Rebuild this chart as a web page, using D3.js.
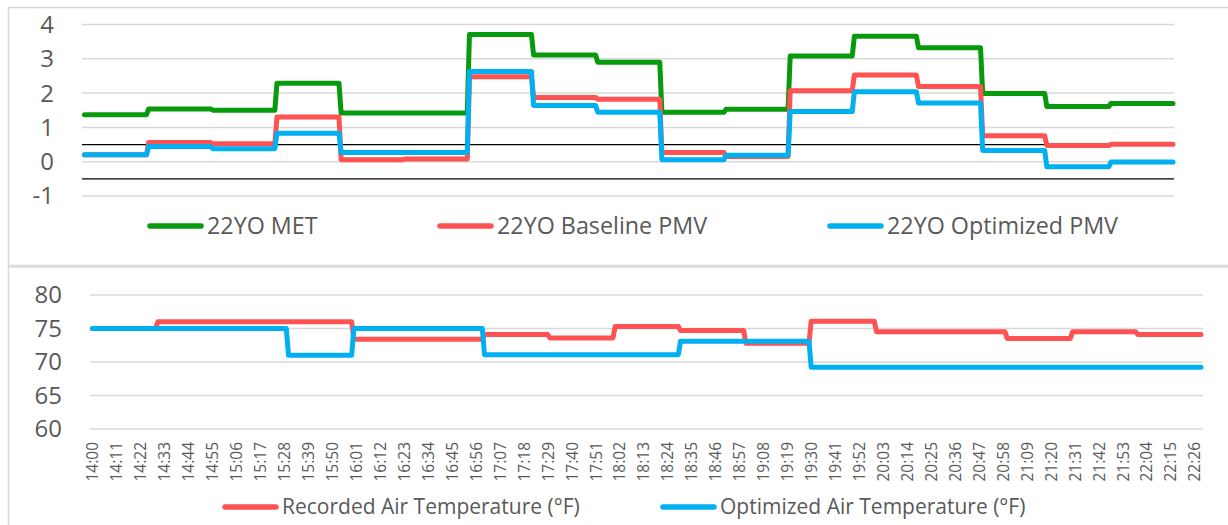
<!DOCTYPE html>
<html><head><meta charset="utf-8">
<script src="https://cdn.jsdelivr.net/npm/d3@7"></script>
<style>
html,body{margin:0;padding:0;background:#fff;}
svg{display:block;font-family:"Open Sans",sans-serif;}
</style></head>
<body>
<svg id="chart" width="1228" height="525"></svg>
<script>
// ---- data ----
const blockStarts = ["14:00","14:30","15:00","15:30","16:00","16:30","17:00","17:30","18:00","18:30","19:00","19:30","20:00","20:30","21:00","21:30","22:00"];
const dataEnd = "22:29";
const metValues        = [1.37,1.54,1.50,2.29,1.42,1.42,3.71,3.11,2.90,1.44,1.53,3.08,3.66,3.32,1.99,1.61,1.70];
const baselinePMV      = [0.20,0.56,0.52,1.30,0.06,0.08,2.48,1.87,1.82,0.27,0.15,2.07,2.53,2.19,0.76,0.47,0.51];
const optimizedPMV     = [0.20,0.44,0.38,0.83,0.27,0.27,2.63,1.64,1.44,0.06,0.19,1.46,2.04,1.71,0.33,-0.15,-0.01];
const recordedTemp     = [75.0,76.0,76.0,76.0,73.4,73.4,74.1,73.6,75.3,74.7,72.8,76.1,74.5,74.5,73.5,74.5,74.1];
const optimizedTemp    = [75.0,75.0,75.0,71.0,75.0,75.0,71.1,71.1,71.1,73.1,73.1,69.2,69.2,69.2,69.2,69.2,69.2];
const comfortBand      = [-0.5,0.5];
const topTicks         = [-1,0,1,2,3,4];
const bottomTicks      = [60,65,70,75,80];
const timeLabels = ["14:00","14:11","14:22","14:33","14:44","14:55","15:06","15:17","15:28","15:39","15:50","16:01","16:12","16:23","16:34","16:45","16:56","17:07","17:18","17:29","17:40","17:51","18:02","18:13","18:24","18:35","18:46","18:57","19:08","19:19","19:30","19:41","19:52","20:03","20:14","20:25","20:36","20:47","20:58","21:09","21:20","21:31","21:42","21:53","22:04","22:15","22:26"];
const topSeries = [
  {name:"22YO MET", values:metValues, color:"#079A0C"},
  {name:"22YO Baseline PMV", values:baselinePMV, color:"#FF5252"},
  {name:"22YO Optimized PMV", values:optimizedPMV, color:"#00B0F0"}
];
const bottomSeries = [
  {name:"Recorded Air Temperature (°F)", values:recordedTemp, color:"#FF5252"},
  {name:"Optimized Air Temperature (°F)", values:optimizedTemp, color:"#00B0F0"}
];

// ---- helpers ----
const toMin = s => { const [h,m] = s.split(":").map(Number); return (h-14)*60+m; };
const endMin = toMin(dataEnd);
function stepPoints(values){
  const pts = [];
  values.forEach((v,i)=>{
    const s = toMin(blockStarts[i]);
    const e = i < blockStarts.length-1 ? toMin(blockStarts[i+1]) - 1 : endMin;
    pts.push([s,v]); pts.push([e,v]);
  });
  return pts;
}

const svg = d3.select("#chart");
const textColor = "#595959", gridColor = "#D9D9D9";

// panels
svg.append("rect").attr("x",8.5).attr("y",7.5).attr("width",1240).attr("height",258)
  .attr("fill","#fff").attr("stroke",gridColor).attr("stroke-width",1.5);
svg.append("rect").attr("x",8.5).attr("y",267).attr("width",1240).attr("height",280)
  .attr("fill","#fff").attr("stroke",gridColor).attr("stroke-width",1.5);

// ---- top chart ----
const xTop = d3.scaleLinear().domain([0,endMin]).range([84.5,1173]);
const yTop = d3.scaleLinear().domain([-1,4]).range([196,24.5]);
const gTop = svg.append("g");
gTop.append("g").selectAll("line").data(topTicks).join("line")
  .attr("x1",82).attr("x2",1174).attr("y1",d=>yTop(d)).attr("y2",d=>yTop(d))
  .attr("stroke",gridColor).attr("stroke-width",1.5);
gTop.append("g").selectAll("text").data(topTicks).join("text")
  .attr("x",54).attr("y",d=>yTop(d)).attr("dy","0.35em").attr("text-anchor","end")
  .attr("fill",textColor).attr("font-size",24).text(d=>d);
gTop.append("g").selectAll("line").data(comfortBand).join("line")
  .attr("x1",82).attr("x2",1174).attr("y1",d=>yTop(d)).attr("y2",d=>yTop(d))
  .attr("stroke","#000").attr("stroke-width",1.2);
const lineTop = d3.line().x(d=>xTop(d[0])).y(d=>yTop(d[1]));
topSeries.forEach(s=>{
  gTop.append("path").attr("d",lineTop(stepPoints(s.values))).attr("fill","none")
    .attr("stroke",s.color).attr("stroke-width",5).attr("stroke-linejoin","round").attr("stroke-linecap","round");
});
// top legend
const topLegX = [148,438,828];
topSeries.forEach((s,i)=>{
  const g = svg.append("g").attr("transform",`translate(${topLegX[i]},226)`);
  g.append("line").attr("x1",2).attr("x2",53).attr("stroke",s.color).attr("stroke-width",5.5).attr("stroke-linecap","round");
  g.append("text").attr("x",59).attr("dy","0.35em").attr("fill",textColor).attr("font-size",23.3).text(s.name);
});

// ---- bottom chart ----
const xBot = d3.scaleLinear().domain([0,endMin]).range([92.5,1201]);
const yBot = d3.scaleLinear().domain([60,80]).range([429,295]);
const gBot = svg.append("g");
gBot.append("g").selectAll("line").data(bottomTicks).join("line")
  .attr("x1",90).attr("x2",1203).attr("y1",d=>yBot(d)).attr("y2",d=>yBot(d))
  .attr("stroke",gridColor).attr("stroke-width",1.5);
gBot.append("g").selectAll("text").data(bottomTicks).join("text")
  .attr("x",62).attr("y",d=>yBot(d)).attr("dy","0.35em").attr("text-anchor","end")
  .attr("fill",textColor).attr("font-size",24).text(d=>d);
const xAxis = d3.axisBottom(xBot).tickValues(timeLabels.map(toMin)).tickFormat((d,i)=>timeLabels[i]).tickSize(0);
const ax = gBot.append("g").attr("transform","translate(0,437)").call(xAxis);
ax.select(".domain").remove();
ax.selectAll("text").attr("transform","rotate(-90)").attr("text-anchor","end")
  .attr("x",-5).attr("y",0).attr("dy","0.35em").attr("fill",textColor)
  .attr("font-size",15.5).attr("font-family","'Open Sans',sans-serif");
const lineBot = d3.line().x(d=>xBot(d[0])).y(d=>yBot(d[1]));
bottomSeries.forEach(s=>{
  gBot.append("path").attr("d",lineBot(stepPoints(s.values))).attr("fill","none")
    .attr("stroke",s.color).attr("stroke-width",5).attr("stroke-linejoin","round").attr("stroke-linecap","round");
});
const botLegX = [223,661];
bottomSeries.forEach((s,i)=>{
  const g = svg.append("g").attr("transform",`translate(${botLegX[i]},507)`);
  g.append("line").attr("x1",2).attr("x2",53).attr("stroke",s.color).attr("stroke-width",5.5).attr("stroke-linecap","round");
  g.append("text").attr("x",59).attr("dy","0.35em").attr("fill",textColor).attr("font-size",21).text(s.name);
});
</script>
</body></html>
